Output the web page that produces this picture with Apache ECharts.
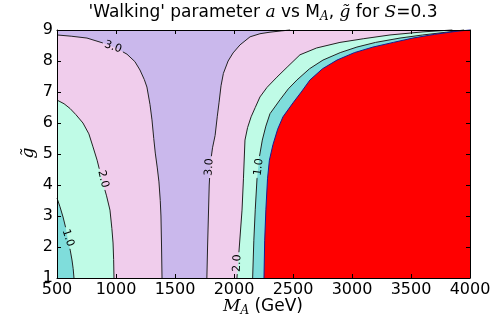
<!DOCTYPE html>
<html>
<head>
<meta charset="utf-8">
<script src="https://cdn.jsdelivr.net/npm/echarts@6/dist/echarts.min.js"></script>
<style>
  html, body { margin: 0; padding: 0; background: #fff; }
  #chart { width: 491px; height: 327px; }
</style>
</head>
<body>
<div id="chart"></div>
<script>
// axis ranges / ticks
const xTicks = [500, 1000, 1500, 2000, 2500, 3000, 3500, 4000];
const yTicks = [1, 2, 3, 4, 5, 6, 7, 8, 9];

// contour lines of a(M_A, g~) as [M_A, g~]
const c3L = [[500, 8.84], [620, 8.80], [754, 8.74], [890, 8.58], [1000, 8.42], [1093, 8.22], [1160, 7.98], [1203, 7.71], [1240, 7.40], [1262, 7.16], [1288, 6.60], [1305, 6.10], [1320, 5.50], [1333, 5.03], [1350, 4.55], [1364, 4.10], [1375, 3.50], [1381, 3.00], [1386, 2.00], [1390, 1.00]];
const c2L = [[500, 6.74], [560, 6.62], [610, 6.47], [660, 6.27], [720, 6.00], [770, 5.65], [805, 5.23], [840, 4.80], [866, 4.40], [890, 4.05], [920, 3.65], [949, 3.19], [965, 2.60], [975, 2.13], [980, 1.60], [983, 1.00]];
const c1L = [[500, 3.58], [525, 3.30], [551, 2.97], [575, 2.60], [593, 2.23], [612, 1.90], [627, 1.58], [637, 1.30], [644, 1.00]];
const c3R = [[1770, 1.00], [1776, 2.00], [1783, 3.00], [1790, 4.00], [1800, 4.70], [1818, 5.20], [1840, 5.60], [1858, 6.20], [1873, 6.65], [1890, 7.20], [1910, 7.60], [1950, 8.00], [1992, 8.26], [2051, 8.52], [2136, 8.78], [2220, 8.88], [2305, 8.93], [2400, 8.97], [2475, 9.00]];
const c2R = [[2025, 1.00], [2045, 2.00], [2068, 3.19], [2080, 4.20], [2093, 5.45], [2115, 5.85], [2145, 6.20], [2180, 6.50], [2220, 6.84], [2280, 7.15], [2364, 7.48], [2450, 7.80], [2559, 8.20], [2700, 8.42], [2898, 8.60], [3100, 8.72], [3322, 8.84], [3602, 8.94], [3850, 9.00]];
const c1R = [[2158, 1.00], [2168, 2.20], [2180, 3.20], [2195, 4.20], [2215, 4.90], [2240, 5.45], [2270, 5.90], [2305, 6.30], [2390, 6.75], [2460, 7.10], [2534, 7.39], [2640, 7.75], [2754, 8.03], [2900, 8.27], [3042, 8.45], [3200, 8.60], [3407, 8.74], [3600, 8.84], [3800, 8.93], [3950, 9.00]];
const c0 = [[2254, 1.00], [2260, 2.20], [2270, 3.20], [2284, 4.20], [2300, 4.80], [2330, 5.30], [2370, 5.80], [2415, 6.20], [2500, 6.65], [2570, 7.00], [2644, 7.39], [2750, 7.75], [2873, 8.03], [3020, 8.27], [3178, 8.45], [3350, 8.60], [3517, 8.74], [3700, 8.86], [3890, 8.96], [4000, 9.00]];

// inline contour labels: text, position, rotation (deg)
const labelText = ['3.0', '2.0', '1.0', '3.0', '2.0', '1.0'];
const labelPos = [[975, 8.45], [890, 4.19], [593, 2.29], [1790, 4.58], [2028, 1.48], [2210, 4.58]];
const labelRot = [-20, -76, -72, 87, 88, 82];

const LAV = '#cab8ec', PINK = '#f0cdec', MINT = '#bffbe6', TEAL = '#7fdddb', RED = '#ff0000';

const fills = [
  { color: LAV, pts: [[500, 1], [4000, 1], [4000, 9], [500, 9]] },
  { color: PINK, pts: c3L.concat([[500, 1]]) },
  { color: PINK, pts: c3R.concat([[4000, 9], [4000, 1]]) },
  { color: MINT, pts: c2L.concat([[500, 1]]) },
  { color: MINT, pts: c2R.concat([[4000, 9], [4000, 1]]) },
  { color: TEAL, pts: c1L.concat([[500, 1]]) },
  { color: TEAL, pts: c1R.concat([[4000, 9], [4000, 1]]) },
  { color: RED, pts: c0.concat([[4000, 1]]) }
];

const lines = [
  { pts: c3L, color: '#222', labels: [0] },
  { pts: c2L, color: '#222', labels: [1] },
  { pts: c1L, color: '#222', labels: [2] },
  { pts: c3R, color: '#222', labels: [3] },
  { pts: c2R, color: '#222', labels: [4] },
  { pts: c1R, color: '#222', labels: [5] },
  { pts: c0, color: '#1a1a90', labels: [] }
];

// cut the line around label centres (pixel space), like clabel inline
function cutLine(pts, centres, r) {
  const out = [];
  let cur = [];
  for (let i = 0; i < pts.length - 1; i++) {
    const A = pts[i], B = pts[i + 1];
    let parts = [[0, 1]];
    centres.forEach(C => {
      const dx = B[0] - A[0], dy = B[1] - A[1];
      const fx = A[0] - C[0], fy = A[1] - C[1];
      const a = dx * dx + dy * dy, b = fx * dx + fy * dy, c = fx * fx + fy * fy - r * r;
      const disc = b * b - a * c;
      if (a === 0 || disc <= 0) return;
      const s = Math.sqrt(disc), t1 = (-b - s) / a, t2 = (-b + s) / a;
      const next = [];
      parts.forEach(([u, v]) => {
        if (t2 <= u || t1 >= v) { next.push([u, v]); return; }
        if (t1 > u) next.push([u, t1]);
        if (t2 < v) next.push([t2, v]);
      });
      parts = next;
    });
    const P = t => [A[0] + (B[0] - A[0]) * t, A[1] + (B[1] - A[1]) * t];
    if (parts.length === 0) { if (cur.length > 1) out.push(cur); cur = []; }
    parts.forEach(([u, v]) => {
      if (u > 0 || cur.length === 0) { if (cur.length > 1) out.push(cur); cur = [P(u)]; }
      cur.push(P(v));
      if (v < 1) { out.push(cur); cur = []; }
    });
  }
  if (cur.length > 1) out.push(cur);
  return out;
}

const axisCommon = {
  type: 'value',
  axisLine: { onZero: false, lineStyle: { color: '#000', width: 1 } },
  axisTick: { inside: true, length: 4, lineStyle: { color: '#000' } },
  splitLine: { show: false },
  z: 10
};
const labelFont = { color: '#000', fontSize: 16, fontFamily: 'DejaVu Sans', formatter: v => String(v) };
const mathRich = {
  n: { fontFamily: 'DejaVu Sans', fontSize: 17, lineHeight: 20 },
  m: { fontFamily: 'DejaVu Serif', fontStyle: 'italic', fontSize: 17, lineHeight: 20 },
  s: { fontFamily: 'DejaVu Serif', fontStyle: 'italic', fontSize: 12, lineHeight: 20, verticalAlign: 'bottom' }
};

const chart = echarts.init(document.getElementById('chart'));
chart.setOption({
  animation: false,
  grid: { left: 57, top: 30, width: 413, height: 248, containLabel: false, outerBoundsMode: 'none' },
  xAxis: [
    Object.assign({}, axisCommon, { min: xTicks[0], max: xTicks[xTicks.length - 1], interval: 500, position: 'bottom',
      axisLabel: Object.assign({ margin: 4 }, labelFont) }),
    Object.assign({}, axisCommon, { min: xTicks[0], max: xTicks[xTicks.length - 1], interval: 500, position: 'top',
      axisLabel: { show: false } })
  ],
  yAxis: [
    Object.assign({}, axisCommon, { min: yTicks[0], max: yTicks[yTicks.length - 1], interval: 1, position: 'left',
      axisLabel: Object.assign({ margin: 4 }, labelFont) }),
    Object.assign({}, axisCommon, { min: yTicks[0], max: yTicks[yTicks.length - 1], interval: 1, position: 'right',
      axisLabel: { show: false } })
  ],
  graphic: [
    {
      type: 'text', x: 263, y: 13,
      style: {
        text: "{n|'Walking' parameter }{m|a}{n| vs M}{s|A}{n|, }{m|g\u0303}{n| for }{m|S}{n|=0.3}",
        textAlign: 'center', textVerticalAlign: 'middle', fill: '#000', rich: mathRich
      }
    },
    {
      type: 'text', x: 263, y: 307,
      style: {
        text: '{m|M}{s|A}{n| (GeV)}',
        textAlign: 'center', textVerticalAlign: 'middle', fill: '#000', rich: mathRich
      }
    },
    {
      type: 'text', x: 29, y: 153, rotation: Math.PI / 2,
      style: {
        text: 'g\u0303', textAlign: 'center', textVerticalAlign: 'middle', fill: '#000',
        font: 'italic 17px "DejaVu Serif"'
      }
    }
  ],
  series: [
    {
      type: 'custom', coordinateSystem: 'cartesian2d', silent: true, z: 1,
      data: fills.map(() => [2250, 5]),
      renderItem: (params, api) => {
        const f = fills[params.dataIndex];
        return { type: 'polygon', shape: { points: f.pts.map(p => api.coord(p)) }, style: { fill: f.color } };
      }
    },
    {
      type: 'custom', coordinateSystem: 'cartesian2d', silent: true, z: 2,
      data: lines.map(() => [2250, 5]),
      renderItem: (params, api) => {
        const l = lines[params.dataIndex];
        const px = l.pts.map(p => api.coord(p));
        const centres = l.labels.map(i => api.coord(labelPos[i]));
        const parts = cutLine(px, centres, 11);
        return {
          type: 'group',
          children: parts.map(p => ({
            type: 'polyline', shape: { points: p },
            style: { stroke: l.color, lineWidth: 1, fill: null }
          }))
        };
      }
    },
    {
      type: 'custom', coordinateSystem: 'cartesian2d', silent: true, z: 3,
      data: labelPos,
      renderItem: (params, api) => {
        const i = params.dataIndex;
        const c = api.coord(labelPos[i]);
        return {
          type: 'text', x: c[0], y: c[1], rotation: labelRot[i] * Math.PI / 180,
          style: {
            text: labelText[i], textAlign: 'center', textVerticalAlign: 'middle',
            fill: '#000', font: '11px "DejaVu Sans"'
          }
        };
      }
    }
  ]
});
</script>
</body>
</html>
